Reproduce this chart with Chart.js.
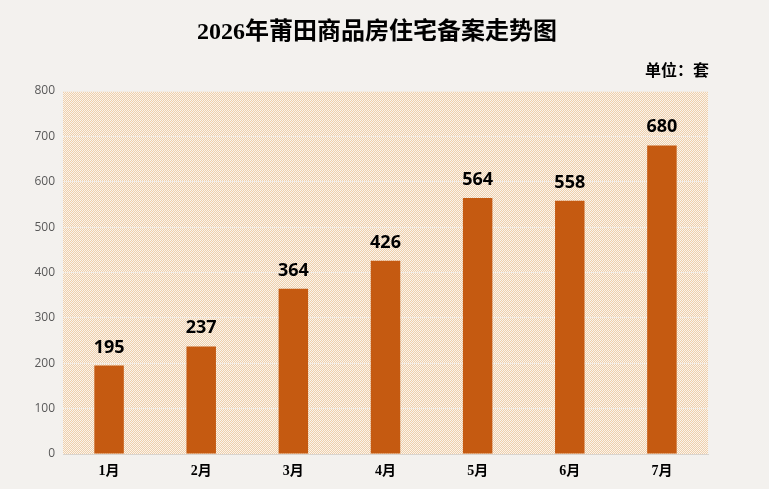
<!DOCTYPE html>
<html><head><meta charset="utf-8">
<script src="https://cdn.jsdelivr.net/npm/chart.js@4"></script>
<style>html,body{margin:0;padding:0;background:#f3f1ee;}#wrap{width:769px;height:489px;}</style>
</head><body><div id="wrap"><canvas id="c" width="769" height="489"></canvas></div>
<script>
const months = ["1月","2月","3月","4月","5月","6月","7月"];
const sales = [195,237,364,426,564,558,680];
const yTicks = [0,100,200,300,400,500,600,700,800];
const titleText = "2026年莆田商品房住宅备案走势图";
const unitText = "单位：套";

function makePattern(ctx){
  const p = document.createElement('canvas'); p.width=2; p.height=2;
  const g = p.getContext('2d');
  g.fillStyle='#faf4ec'; g.fillRect(0,0,2,2);
  g.fillStyle='#efcfab';
  g.fillRect(0,1,1,1); g.fillRect(1,0,1,1);
  return ctx.createPattern(p,'repeat');
}

const deco = {
  id:'deco',
  beforeDraw(chart){
    const {ctx, chartArea:a} = chart;
    ctx.save();
    ctx.fillStyle='#f3f1ee'; ctx.fillRect(0,0,chart.width,chart.height);
    ctx.fillStyle=makePattern(ctx);
    ctx.fillRect(a.left,a.top,a.right-a.left,a.bottom-a.top);
    ctx.fillStyle='#000';
    ctx.textAlign='center'; ctx.textBaseline='middle';
    ctx.font='bold 24px "Liberation Serif","Noto Sans CJK SC"';
    ctx.fillText(titleText, 377, 33);
    ctx.textAlign='right';
    ctx.font='bold 16px "Liberation Serif","Noto Sans CJK SC"';
    ctx.fillText(unitText, 709, 72);
    ctx.restore();
  },
  afterDatasetsDraw(chart){
    const {ctx}=chart; const meta=chart.getDatasetMeta(0);
    ctx.save();
    ctx.fillStyle='#000'; ctx.textAlign='center'; ctx.textBaseline='alphabetic';
    ctx.font='bold 18px "Open Sans","Liberation Sans"';
    meta.data.forEach((el,i)=>{ ctx.fillText(String(sales[i]), el.x, el.y-13); });
    ctx.restore();
  }
};

new Chart(document.getElementById('c'),{
  type:'bar',
  data:{labels:months,datasets:[{data:sales,backgroundColor:'#c55a11',categoryPercentage:1,barPercentage:0.32}]},
  options:{
    responsive:false,animation:false,
    layout:{padding:{top:91,right:61,left:0,bottom:0}},
    plugins:{legend:{display:false},tooltip:{enabled:false},title:{display:false}},
    scales:{
      x:{grid:{display:false,drawTicks:false},border:{color:'#d9d4ce',width:1},
         afterFit(s){s.height=35;},
         ticks:{color:'#000',padding:9,font:{family:'"Liberation Serif","Noto Sans CJK SC"',size:14,weight:'bold'}}},
      y:{min:0,max:800,afterBuildTicks(s){s.ticks=yTicks.map(v=>({value:v}));},
         afterFit(s){s.width=63;},
         grid:{color:'#f3ebe2',lineWidth:1,drawTicks:false},border:{display:false},
         ticks:{color:'#595959',padding:8,font:{family:'"Open Sans","Liberation Sans"',size:12}}}
    }
  },
  plugins:[deco]
});
</script></body></html>
